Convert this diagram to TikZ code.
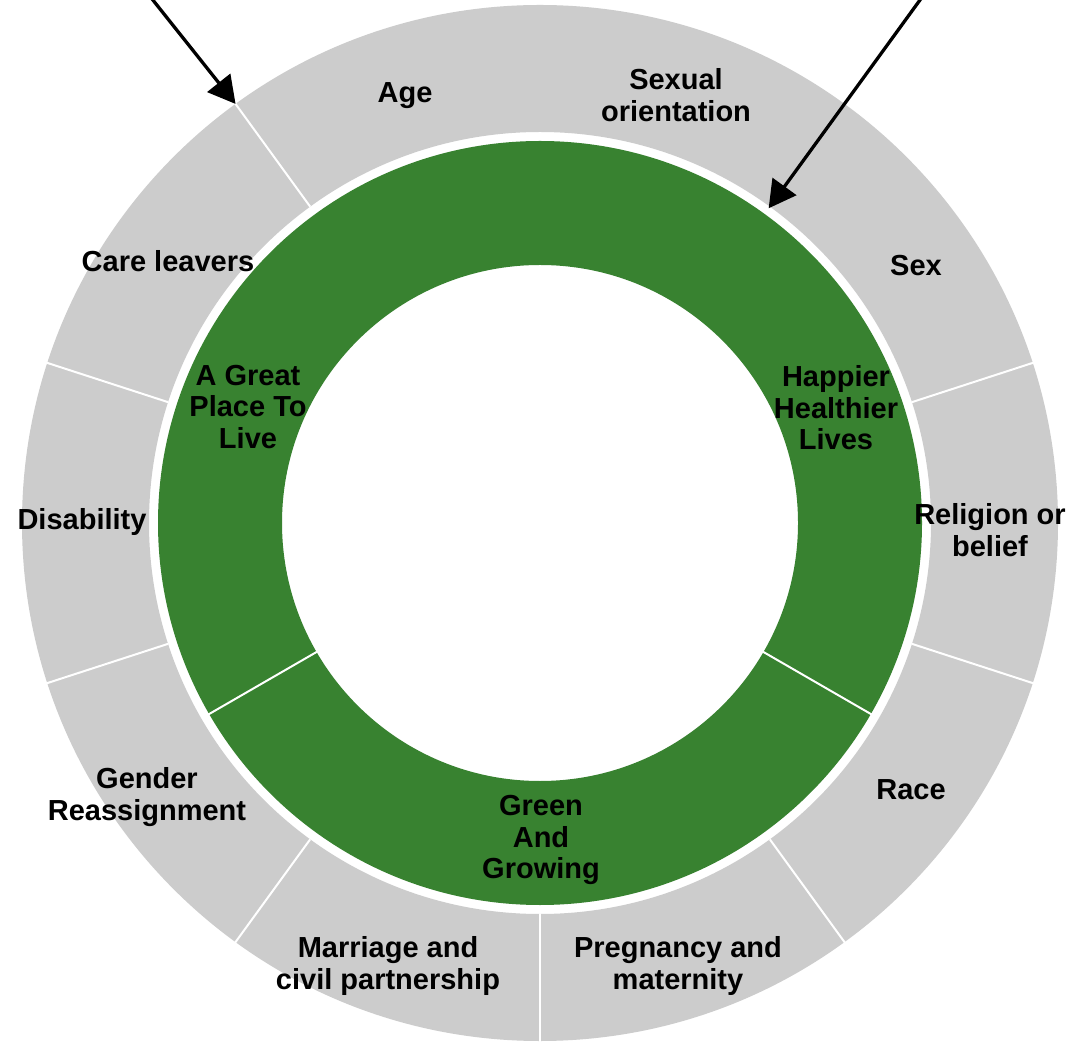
\documentclass[tikz,border=0pt]{standalone}
\usepackage{fontspec}
\setmainfont{Liberation Sans}
\usetikzlibrary{arrows.meta}
\definecolor{ringgray}{RGB}{204,204,204}
\definecolor{ringgreen}{RGB}{56,130,48}
\begin{document}
\begin{tikzpicture}[x=1pt,y=1pt,
  lbl/.style={align=center,inner sep=0pt,font=\fontsize{29}{31.5}\selectfont\bfseries,text=black},
  divider/.style={white,line width=2pt},
  pointer/.style={black,line width=3.3pt,-{Triangle[length=27pt,width=29pt]}}]
\useasboundingbox[fill=white] (0,0) rectangle (1067,1042);
\coordinate (C) at (540,519);
% outer gray ring
\fill[ringgray,even odd rule] (C) circle[radius=518] (C) circle[radius=391];
\foreach \a in {18,-18,-54,-90,-126,-162,162,126,54}
  \draw[divider] ([shift={(\a:391)}]C) -- ([shift={(\a:519)}]C);
% green ring
\fill[ringgreen,even odd rule] (C) circle[radius=382] (C) circle[radius=258];
\foreach \a in {-30,210}
  \draw[divider] ([shift={(\a:257)}]C) -- ([shift={(\a:383)}]C);
% gray labels
\node[lbl] (age) at (405,946) {Age};
\node[lbl] (sexor) at (676,947) {Sexual\\orientation};
\node[lbl] (sex) at (916,776) {Sex};
\node[lbl] (rel) at (990,512) {Religion or\\belief};
\node[lbl] (race) at (911,252) {Race};
\node[lbl] (preg) at (678,76) {Pregnancy and\\maternity};
\node[lbl] (marr) at (388,76) {Marriage and\\civil partnership};
\node[lbl] (gend) at (147,245) {Gender\\Reassignment};
\node[lbl] (dis) at (82,520) {Disability};
\node[lbl] (care) at (168,781) {Care leavers};
% green labels
\node[lbl] (great) at (248,635) {A Great\\Place To\\Live};
\node[lbl] (happy) at (836,634) {Happier\\Healthier\\Lives};
\node[lbl] (green) at (541,202) {Green\\And\\Growing};
% arrows
\coordinate (t1) at ([shift={(126:518)}]C);
\coordinate (s1) at ([shift={(128.5:150)}]t1);
\coordinate (t2) at ([shift={(54:389)}]C);
\coordinate (s2) at ([shift={(54:670)}]C);
\draw[pointer] (s1) -- (t1);
\draw[pointer] (s2) -- (t2);
\end{tikzpicture}
\end{document}
